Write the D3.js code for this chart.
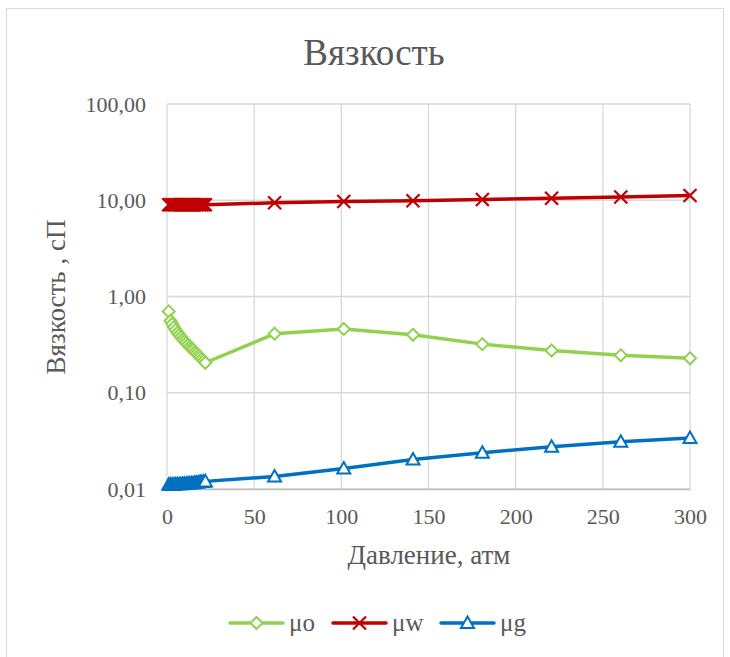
<!DOCTYPE html>
<html><head><meta charset="utf-8">
<script src="https://cdn.jsdelivr.net/npm/d3@7"></script>
<style>body{margin:0;background:#fff}svg{display:block}</style>
</head><body>
<svg id="c" width="730" height="657"></svg>
<script>
const pressure = [1,2,3,4,5,6,7,8,9,10,11,12,13,14,15,16,17,18,19,20,21,22,61.7,101.4,141.1,180.9,220.6,260.3,300];
const muO = [0.70,0.56,0.52,0.48,0.45,0.42,0.40,0.38,0.36,0.345,0.33,0.315,0.30,0.29,0.28,0.265,0.255,0.245,0.235,0.225,0.215,0.205,0.41,0.46,0.40,0.32,0.275,0.245,0.228];
const muW = [9.0,9.0,9.0,9.0,9.0,9.0,9.0,9.0,9.0,9.0,9.0,9.0,9.0,9.0,9.0,9.0,9.0,9.0,9.0,9.0,9.0,9.0,9.4,9.7,9.9,10.2,10.5,10.8,11.2];
const muG = [0.0111,0.0111,0.0111,0.0111,0.0112,0.0112,0.0112,0.0112,0.0113,0.0113,0.0113,0.0114,0.0114,0.0115,0.0115,0.0116,0.0116,0.0117,0.0118,0.0118,0.0119,0.0120,0.0135,0.0163,0.0202,0.0238,0.0275,0.031,0.0338];
const seriesNames = ["μo","μw","μg"];
const seriesColors = ["#92d050","#c00000","#0070c0"];
const xTicks = [0,50,100,150,200,250,300];
const yTicks = [0.01,0.1,1,10,100];
const yTickLabels = ["0,01","0,10","1,00","10,00","100,00"];

const svg = d3.select("#c");
const font = "'Liberation Serif','Times New Roman',serif";
const grey = "#595959";
svg.append("rect").attr("x",6.5).attr("y",8.5).attr("width",717).attr("height",660).attr("fill","#fff").attr("stroke","#d9d9d9");

const L=167,R=690,T=104,B=489;
const x = d3.scaleLinear().domain([0,300]).range([L,R]);
const y = d3.scaleLog().domain([0.01,100]).range([B,T]);

// grid
svg.append("g").selectAll("line").data(xTicks).join("line")
  .attr("x1",d=>x(d)).attr("x2",d=>x(d)).attr("y1",T).attr("y2",B)
  .attr("stroke","#d9d9d9").attr("stroke-width",1.3);
svg.append("g").selectAll("line").data(yTicks).join("line")
  .attr("x1",L).attr("x2",R).attr("y1",d=>y(d)).attr("y2",d=>y(d))
  .attr("stroke","#d9d9d9").attr("stroke-width",1.3);

// axes labels
const xAxis = d3.axisBottom(x).tickValues(xTicks).tickSize(0).tickPadding(19).tickFormat(d3.format("d"));
const gx = svg.append("g").attr("transform",`translate(0,${B})`).call(xAxis);
gx.select(".domain").attr("stroke","#bfbfbf").attr("stroke-width",1.3);
gx.selectAll("text").attr("font-family",font).attr("font-size",22).attr("fill",grey);
const yAxis = d3.axisLeft(y).tickValues(yTicks).tickSize(0).tickPadding(21).tickFormat((d,i)=>yTickLabels[i]);
const gy = svg.append("g").attr("transform",`translate(${L},0)`).call(yAxis);
gy.select(".domain").remove();
gy.selectAll("text").attr("font-family",font).attr("font-size",22).attr("fill",grey);

// lines
const datasets = [muO,muW,muG];
const line = d3.line().x((d,i)=>x(pressure[i])).y(d=>y(d));
datasets.forEach((ds,k)=>{
  svg.append("path").datum(ds).attr("d",line).attr("fill","none")
    .attr("stroke",seriesColors[k]).attr("stroke-width",3.5).attr("stroke-linejoin","round");
});

function marker(g,k,cx,cy){
  if(k===0){
    g.append("path").attr("d",`M${cx},${cy-6}L${cx+6},${cy}L${cx},${cy+6}L${cx-6},${cy}Z`)
      .attr("fill","#fff").attr("stroke",seriesColors[0]).attr("stroke-width",2);
  } else if(k===1){
    g.append("path").attr("d",`M${cx-6.5},${cy-6.5}L${cx+6.5},${cy+6.5}M${cx-6.5},${cy+6.5}L${cx+6.5},${cy-6.5}`)
      .attr("stroke",seriesColors[1]).attr("stroke-width",2.2);
  } else {
    g.append("path").attr("d",`M${cx},${cy-6.5}L${cx+6.5},${cy+5}L${cx-6.5},${cy+5}Z`)
      .attr("fill","#fff").attr("stroke",seriesColors[2]).attr("stroke-width",2);
  }
}
datasets.forEach((ds,k)=>{
  const g = svg.append("g");
  ds.forEach((v,i)=>marker(g,k,x(pressure[i]),y(v)));
});

// titles
svg.append("text").attr("x",374).attr("y",65).attr("text-anchor","middle")
  .attr("font-family",font).attr("font-size",37).attr("fill",grey).text("Вязкость");
svg.append("text").attr("x",429).attr("y",564).attr("text-anchor","middle")
  .attr("font-family",font).attr("font-size",27).attr("fill",grey).text("Давление, атм");
svg.append("text").attr("transform","translate(65,297) rotate(-90)").attr("text-anchor","middle")
  .attr("font-family",font).attr("font-size",27).attr("fill",grey).text("Вязкость , сП");

// legend
const legX = [230,333,441];
seriesNames.forEach((n,k)=>{
  const g = svg.append("g");
  g.append("line").attr("x1",legX[k]).attr("x2",legX[k]+53).attr("y1",623).attr("y2",623)
    .attr("stroke",seriesColors[k]).attr("stroke-width",3.5).attr("stroke-linecap","round");
  marker(g,k,legX[k]+26.5,623);
  g.append("text").attr("x",legX[k]+59).attr("y",631).attr("font-family",font)
    .attr("font-size",25).attr("fill",grey).text(n);
});
</script>
</body></html>
